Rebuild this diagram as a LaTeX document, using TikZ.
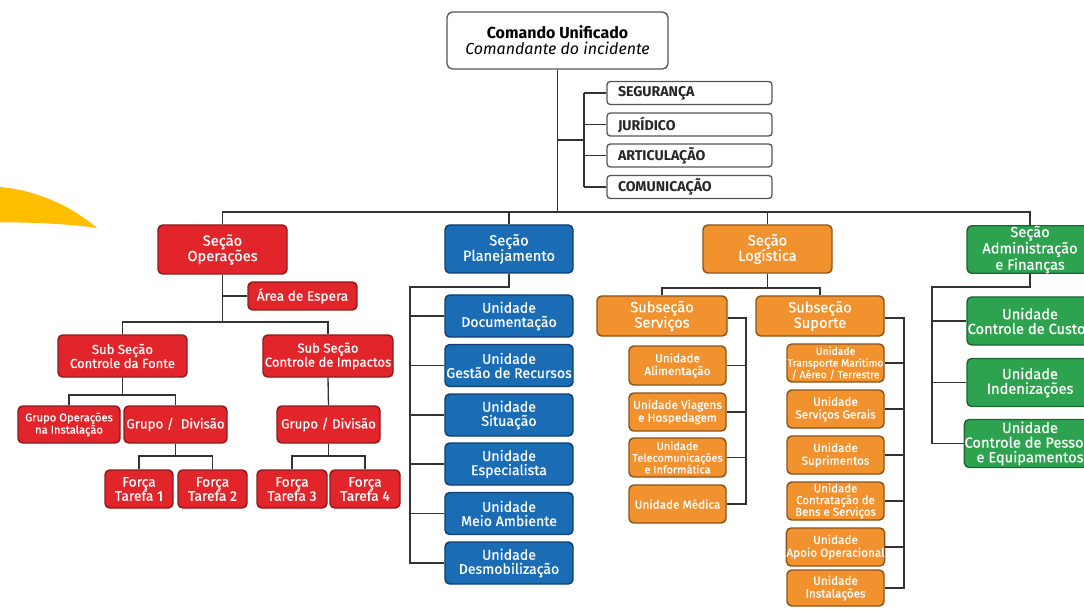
\documentclass[tikz,border=0pt]{standalone}
\usepackage{fontspec}
\setmainfont{Fira Sans}
\newfontfamily\boxfont{Fira Sans}[FakeBold=0.6]
\definecolor{linec}{HTML}{333333}
\definecolor{framec}{HTML}{555555}
\definecolor{redf}{HTML}{E2252B}
\definecolor{redd}{HTML}{8E1A1C}
\definecolor{bluef}{HTML}{1A6DB5}
\definecolor{blued}{HTML}{0E3F70}
\definecolor{orangef}{HTML}{F2922F}
\definecolor{oranged}{HTML}{8C5418}
\definecolor{greenf}{HTML}{2DA34F}
\definecolor{greend}{HTML}{1A6532}
\definecolor{amber}{HTML}{FFBF00}
\begin{document}
\begin{tikzpicture}[x=0.75pt,y=-0.75pt,
  wh/.style 2 args={minimum width=#1*0.75pt, minimum height=#2*0.75pt},
  fs/.style 2 args={font=\boxfont\fontsize{#1}{#2}\selectfont},
  box/.style={rounded corners=3.5pt, line width=1.1pt, inner sep=0pt, align=center, text=white},
  redbox/.style={box, fill=redf, draw=redd},
  bluebox/.style={box, fill=bluef, draw=blued},
  orangebox/.style={box, fill=orangef, draw=oranged},
  greenbox/.style={box, fill=greenf, draw=greend},
  staffbox/.style={rounded corners=2.5pt, line width=1pt, draw=framec, fill=white,
    inner ysep=0pt, inner xsep=11*0.75pt, text width=143*0.75pt, align=left,
    minimum height=23*0.75pt, font=\fontsize{10.6}{11}\selectfont\bfseries, text=black!85},
  fsec/.style={fs={11}{11.5}},
  funit/.style={fs={10.6}{10.6}},
  fgreen/.style={fs={11}{11}},
  fmid/.style={fs={9.8}{10.5}},
  fsmall/.style={fs={8.8}{9.6}},
  link/.style={draw=linec, line width=1pt}
]
\useasboundingbox (0,0) rectangle (1084,609);
\clip (0,0) rectangle (1084,609);

% decorative swoosh on the left
\fill[amber] (0,187) .. controls (35,190) and (70,205) .. (97,228)
  .. controls (70,224) and (30,222) .. (0,222.5) -- cycle;

% command and staff
\node[rounded corners=4pt, line width=1pt, draw=framec, fill=white, wh={221}{57}, align=center]
  (cmd) at (557.5,40.5) {{\fontsize{12}{13}\selectfont\bfseries Comando Unificado}\\
  {\fontsize{12}{13}\selectfont\itshape Comandante do incidente}};
\node[staffbox] (seg) at (689.5,93) {SEGURANÇA};
\node[staffbox] (jur) at (689.5,124.5) {JURÍDICO};
\node[staffbox] (art) at (689.5,155.5) {ARTICULAÇÃO};
\node[staffbox] (com) at (689.5,187) {COMUNICAÇÃO};

% sections
\node[redbox, fsec, wh={129}{49}] (ops) at (222.5,249.5) {Seção\\Operações};
\node[bluebox, fsec, wh={128}{48}] (plan) at (509,249) {Seção\\Planejamento};
\node[orangebox, fsec, wh={129}{48}] (log) at (767.5,249) {Seção\\Logística};
\node[greenbox, fgreen, wh={126}{47}] (adm) at (1030,249.5) {Seção\\Administração\\e Finanças};

% operations
\node[redbox, fs={10.2}{11}, wh={109}{28}] (esp) at (302.5,296) {Área de Espera};
\node[redbox, fmid, wh={129}{42}] (fon) at (122.5,356) {Sub Seção\\Controle da Fonte};
\node[redbox, fmid, wh={130}{42}] (imp) at (328,356) {Sub Seção\\Controle de Impactos};
\node[redbox, fs={8.4}{9.2}, wh={102}{37}] (gop) at (69,424.5) {Grupo Operações\\na Instalação};
\node[redbox, fs={10}{11}, wh={103}{37}] (gd1) at (175.5,424.5) {Grupo /\ \ Divisão};
\node[redbox, fs={10}{11}, wh={103}{37}] (gd2) at (328.5,424.5) {Grupo / Divisão};
\node[redbox, fs={10.4}{10.6}, wh={68}{38}] (ft1) at (139,489) {Força\\Tarefa 1};
\node[redbox, fs={10.4}{10.6}, wh={69}{38}] (ft2) at (212.5,489) {Força\\Tarefa 2};
\node[redbox, fs={10.4}{10.6}, wh={70}{38}] (ft3) at (292,489) {Força\\Tarefa 3};
\node[redbox, fs={10.4}{10.6}, wh={70}{38}] (ft4) at (365,489) {Força\\Tarefa 4};

% planning
\node[bluebox, funit, wh={128}{42}] (pdoc) at (509,316) {Unidade\\Documentação};
\node[bluebox, funit, wh={128}{42}] (pges) at (509,365.5) {Unidade\\Gestão de Recursos};
\node[bluebox, funit, wh={128}{42}] (psit) at (509,415) {Unidade\\Situação};
\node[bluebox, funit, wh={128}{42}] (pesp) at (509,464) {Unidade\\Especialista};
\node[bluebox, funit, wh={128}{42}] (pmei) at (509,513.5) {Unidade\\Meio Ambiente};
\node[bluebox, funit, wh={128}{42}] (pdes) at (509,563) {Unidade\\Desmobilização};

% logistics
\node[orangebox, fsec, wh={130}{40}] (srv) at (662,316) {Subseção\\Serviços};
\node[orangebox, fsec, wh={128}{40}] (sup) at (820,316) {Subseção\\Suporte};
\node[orangebox, fsmall, wh={97}{39}] (sali) at (677.5,365.5) {Unidade\\Alimentação};
\node[orangebox, fsmall, wh={97}{38}] (svia) at (677.5,412) {Unidade Viagens\\e Hospedagem};
\node[orangebox, fs={8.2}{8.8}, wh={97}{39}] (stel) at (677.5,457.5) {Unidade\\Telecomunicações\\e Informática};
\node[orangebox, fsmall, wh={97}{38}] (smed) at (677.5,504) {Unidade Médica};
\node[orangebox, fs={7.8}{8.8}, wh={97}{38}] (utra) at (835.5,363) {Unidade\\Transporte Marítimo\\/ Aéreo / Terrestre};
\node[orangebox, fsmall, wh={97}{38}] (uger) at (835.5,409) {Unidade\\Serviços Gerais};
\node[orangebox, fsmall, wh={97}{38}] (usup) at (835.5,455) {Unidade\\Suprimentos};
\node[orangebox, fs={8.6}{8.8}, wh={97}{38}] (ucon) at (835.5,501) {Unidade\\Contratação de\\Bens e Serviços};
\node[orangebox, fsmall, wh={97}{38}] (uapo) at (835.5,547) {Unidade\\Apoio Operacional};
\node[orangebox, fsmall, wh={97}{36}] (uins) at (835.5,588) {Unidade\\Instalações};

% administration
\node[greenbox, fgreen, wh={126}{48}] (acus) at (1030,321) {Unidade\\Controle de Custos};
\node[greenbox, fgreen, wh={126}{48}] (aind) at (1030,382.5) {Unidade\\Indenizações};
\node[greenbox, fgreen, wh={126}{48}] (apes) at (1030,443.5) {Unidade\\Controle de Pessoal\\e Equipamentos};

% connectors: command level
\coordinate (busL) at (222.5,212);
\coordinate (busR) at (1030,212);
\coordinate (stf) at (584,140);
\draw[link] (cmd.south) -- (cmd.south |- busL);
\draw[link] (ops.north) -- (busL) -- (busR) -- (adm.north);
\draw[link] (plan.north) -- (plan.north |- busL);
\draw[link] (log.north) -- (log.north |- busL);
\draw[link] (cmd.south |- stf) -- (stf);
\draw[link] (seg.west -| stf) -- (com.west -| stf);
\foreach \n in {seg,jur,art,com} \draw[link] (\n.west) -- (\n.west -| stf);

% connectors: operations
\coordinate (opj) at (222.5,322);
\coordinate (fj) at (122.5,395);
\coordinate (g1j) at (175.5,456);
\coordinate (g2j) at (328.5,456);
\draw[link] (ops.south) -- (opj);
\draw[link] (esp.west) -- (esp.west -| ops.south);
\draw[link] (fon.north) |- (opj) -| (imp.north);
\draw[link] (fon.south) -- (fj);
\draw[link] (gop.north) |- (fj) -| (gd1.north);
\draw[link] (gd1.south) -- (g1j);
\draw[link] (ft1.north) |- (g1j) -| (ft2.north);
\draw[link] (imp.south) -- (gd2.north);
\draw[link] (gd2.south) -- (g2j);
\draw[link] (ft3.north) |- (g2j) -| (ft4.north);

% connectors: planning
\coordinate (pj) at (410,287);
\draw[link] (plan.south) |- (pj) -- (pj |- pdes.west) -- (pdes.west);
\foreach \n in {pdoc,pges,psit,pesp,pmei} \draw[link] (\n.west) -- (\n.west -| pj);

% connectors: logistics
\coordinate (lj) at (767.5,288);
\coordinate (sj) at (746,318);
\coordinate (uj) at (904,318);
\draw[link] (log.south) -- (lj);
\draw[link] (srv.north) |- (lj) -| (sup.north);
\draw[link] (srv.east |- sj) -- (sj) -- (sj |- smed.east) -- (smed.east);
\foreach \n in {sali,svia,stel} \draw[link] (\n.east) -- (\n.east -| sj);
\draw[link] (sup.east |- uj) -- (uj) -- (uj |- uins.east) -- (uins.east);
\foreach \n in {utra,uger,usup,ucon,uapo} \draw[link] (\n.east) -- (\n.east -| uj);

% connectors: administration
\coordinate (aj) at (932,287);
\draw[link] (adm.south) |- (aj) -- (aj |- apes.west) -- (apes.west);
\foreach \n in {acus,aind} \draw[link] (\n.west) -- (\n.west -| aj);
\end{tikzpicture}
\end{document}
